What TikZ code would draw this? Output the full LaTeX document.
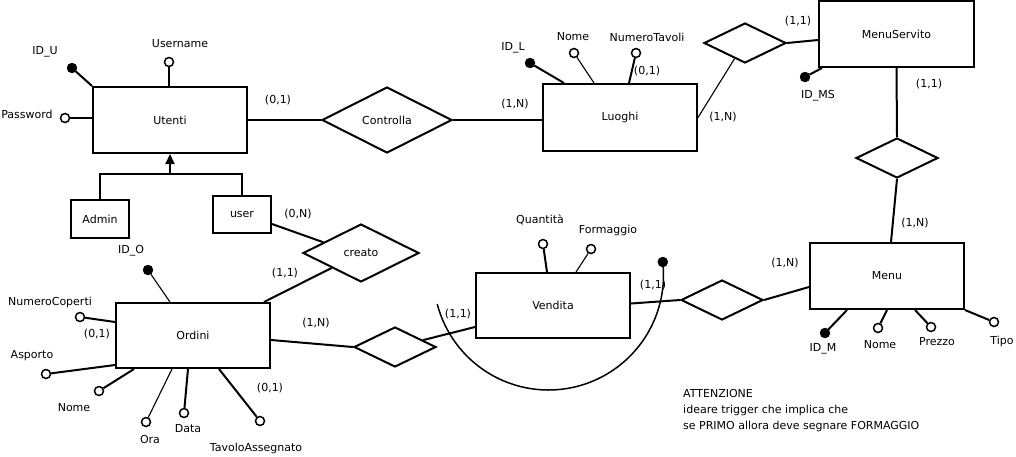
\documentclass[tikz,border=0pt]{standalone}
\usepackage{fontspec}
\setmainfont{DejaVu Sans}
\usetikzlibrary{shapes.geometric,arrows.meta,calc}
\begin{document}
\begin{tikzpicture}[x=1pt,y=-1pt,
  ent/.style={draw,rectangle,line width=2pt,inner sep=0pt,font=\fontsize{11}{13}\selectfont},
  rel/.style={draw,diamond,line width=2pt,inner sep=0pt,font=\fontsize{11}{13}\selectfont},
  lab/.style={inner sep=0pt,font=\fontsize{11}{13}\selectfont},
  thk/.style={line width=2pt},
  thn/.style={line width=1.1pt},
  keyat/.style={circle,fill=black,draw=black,inner sep=0pt,minimum size=10pt},
  attr/.style={circle,fill=white,draw=black,line width=1.5pt,inner sep=0pt,minimum size=9pt},
]
\useasboundingbox (0,0) rectangle (1016,456);
\fill[white] (0,0) rectangle (1016,456);

% entities
\node[ent,minimum width=154,minimum height=66] (utenti) at (170,120) {Utenti};
\node[ent,minimum width=58,minimum height=38] (admin) at (100,219) {Admin};
\node[ent,minimum width=58,minimum height=37] (user) at (242,214.5) {user};
\node[ent,minimum width=154,minimum height=67] (luoghi) at (620,117.5) {Luoghi};
\node[ent,minimum width=155,minimum height=66] (menuservito) at (896.5,34) {MenuServito};
\node[ent,minimum width=154,minimum height=66] (menu) at (887,276) {Menu};
\node[ent,minimum width=154,minimum height=65] (vendita) at (553,305.5) {Vendita};
\node[ent,minimum width=154,minimum height=65] (ordini) at (193,335.5) {Ordini};

% relationships
\node[rel,minimum width=130,minimum height=66] (controlla) at (387,120) {Controlla};
\node[rel,minimum width=82,minimum height=40] (rel1) at (745,43) {};
\node[rel,minimum width=82,minimum height=40] (rel2) at (897,158) {};
\node[rel,minimum width=82,minimum height=40] (rel3) at (722,300) {};
\node[rel,minimum width=82,minimum height=40] (rel4) at (395,347) {};
\node[rel,minimum width=116,minimum height=58] (creato) at (361,253) {creato};

% connectors
\draw[thk] (utenti.east) -- (controlla.west);
\draw[thk] (controlla.east) -- (controlla.east -| luoghi.west);
\draw[thn] (luoghi.east) -- ($(rel1.west)!0.75!(rel1.south)$);
\draw[thk] (rel1.east) -- ([yshift=-6pt]menuservito.west);
\draw[thk] (menuservito.south) -- (rel2.north);
\draw[thk] (rel2.south) -- ([xshift=4pt]menu.north);
\draw[thk] (rel3.east) -- ([yshift=-11pt]menu.west);
\draw[thk] ([yshift=2pt]vendita.east) -- (rel3.west);
\draw[thk] ([yshift=-21.5pt]vendita.west) -- ($(rel4.north)!0.67!(rel4.east)$);
\draw[thk] ([yshift=-4.5pt]ordini.east) -- (rel4.west);
\draw[thk] ([yshift=-9.5pt]user.east) -- ($(creato.west)!0.36!(creato.north)$);
\draw[thk] ([xshift=-7pt]ordini.north east) -- ($(creato.west)!0.5!(creato.south)$);

% generalization
\coordinate (inh) at (170,174);
\draw[thk] (admin.north) -- (admin.north |- inh) -- (user.north |- inh) -- (user.north);
\draw[thk,-{Triangle[width=9pt,length=10pt]}] (inh) -- (utenti.south);

% Utenti attributes
\node[keyat] (idu) at (72,68) {};
\draw[thk] (idu) -- (utenti.north west);
\node[lab] at (45,52) {ID\_U};
\node[attr] (username) at (169,62) {};
\draw[thk] (username) -- (username |- utenti.north);
\node[lab] at (180,44) {Username};
\node[attr] (password) at (65,118) {};
\draw[thk] (password) -- (password -| utenti.west);
\node[lab] at (27,114) {Password};

% Luoghi attributes
\node[keyat] (idl) at (530,63) {};
\draw[thk] (idl) -- ([xshift=22pt]luoghi.north west);
\node[lab] at (513,48) {ID\_L};
\node[attr] (nomel) at (574,53) {};
\draw[thn] (nomel) -- ([xshift=52pt]luoghi.north west);
\node[lab] at (573,37) {Nome};
\node[attr] (numtav) at (636,53) {};
\draw[thk] (numtav) -- ([xshift=87pt]luoghi.north west);
\node[lab] at (647,37) {NumeroTavoli};

% MenuServito attributes
\node[keyat] (idms) at (805,77) {};
\draw[thk] (idms) -- ([xshift=4pt]menuservito.south west);
\node[lab] at (818,96) {ID\_MS};

% Menu attributes
\node[keyat] (idm) at (825,333) {};
\draw[thk] (idm) -- ([xshift=38pt]menu.south west);
\node[lab] at (823,349) {ID\_M};
\node[attr] (nomem) at (878,328) {};
\draw[thk] (nomem) -- ([xshift=78pt]menu.south west);
\node[lab] at (880,345) {Nome};
\node[attr] (prezzo) at (931,327) {};
\draw[thk] (prezzo) -- ([xshift=106pt]menu.south west);
\node[lab] at (937,342) {Prezzo};
\node[attr] (tipo) at (994,322) {};
\draw[thk] (tipo) -- (menu.south east);
\node[lab] at (1002,341) {Tipo};

% Vendita attributes
\node[attr] (quantita) at (543,244) {};
\draw[thk] (quantita) -- ([xshift=72pt]vendita.north west);
\node[lab] at (540,220) {Quantità};
\node[attr] (formaggio) at (591,249) {};
\draw[thn] (formaggio) -- ([xshift=101pt]vendita.north west);
\node[lab] at (608,230) {Formaggio};
\draw[line width=1.5pt] plot[domain=165.4:-6.5,samples=90,smooth] ({548.5+115*cos(\x)},{275+115*sin(\x)});
\node[keyat] (idv) at (662.8,262) {};

% Ordini attributes
\node[keyat] (ido) at (148,270) {};
\draw[thn] (ido) -- ([xshift=55pt]ordini.north west);
\node[lab] at (131,251) {ID\_O};
\node[attr] (numcop) at (80,317) {};
\draw[thk] (numcop) -- ([yshift=-20pt]ordini.north west);
\node[lab] at (50,302) {NumeroCoperti};
\node[attr] (asporto) at (46,374) {};
\draw[thk] (asporto) -- ([yshift=4pt]ordini.south west);
\node[lab] at (32,356) {Asporto};
\node[attr] (nomeo) at (99,391) {};
\draw[thk] (nomeo) -- ([xshift=19pt]ordini.south west);
\node[lab] at (74,408) {Nome};
\node[attr] (ora) at (146,422) {};
\draw[thn] (ora) -- ([xshift=57pt]ordini.south west);
\node[lab] at (150,439) {Ora};
\node[attr] (data) at (184,413) {};
\draw[thk] (data) -- ([xshift=73pt]ordini.south west);
\node[lab] at (188,429) {Data};
\node[attr] (tavolo) at (260,421) {};
\draw[thk] (tavolo) -- ([xshift=104pt]ordini.south west);
\node[lab] at (256,448) {TavoloAssegnato};

% cardinalities
\node[lab] at (278,100) {(0,1)};
\node[lab] at (515,104) {(1,N)};
\node[lab] at (647,71) {(0,1)};
\node[lab] at (723,117) {(1,N)};
\node[lab] at (798,21) {(1,1)};
\node[lab] at (929,84) {(1,1)};
\node[lab] at (915,223) {(1,N)};
\node[lab] at (785,263) {(1,N)};
\node[lab] at (653,285) {(1,1)};
\node[lab] at (458,314) {(1,1)};
\node[lab] at (316,323) {(1,N)};
\node[lab] at (285,273) {(1,1)};
\node[lab] at (298,214) {(0,N)};
\node[lab] at (97,334) {(0,1)};
\node[lab] at (270,388) {(0,1)};

% note
\node[lab,anchor=north west,align=left,font=\fontsize{11}{16}\selectfont] (note) at (683,389)
  {ATTENZIONE\\ideare trigger che implica che\\se PRIMO allora deve segnare FORMAGGIO};
\end{tikzpicture}
\end{document}
